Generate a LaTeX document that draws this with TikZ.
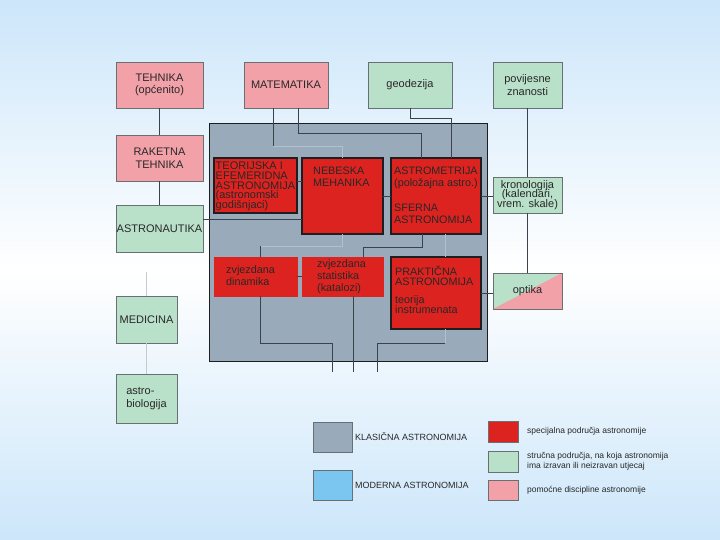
\documentclass[tikz,border=0pt]{standalone}
\usepackage{fontspec}
\setmainfont{Liberation Sans}
\usetikzlibrary{positioning}
\definecolor{bgblue}{RGB}{204,230,250}
\definecolor{pinkfill}{RGB}{242,161,168}
\definecolor{greenfill}{RGB}{185,224,201}
\definecolor{redfill}{RGB}{220,35,32}
\definecolor{greyfill}{RGB}{153,171,187}
\definecolor{bluefill}{RGB}{122,198,240}
\definecolor{boxbdr}{RGB}{105,112,116}
\definecolor{emphbdr}{RGB}{30,30,32}
\definecolor{lineclr}{RGB}{58,66,76}
\definecolor{lightln}{RGB}{178,192,204}
\definecolor{paleln}{RGB}{196,202,208}
\definecolor{txtclr}{RGB}{40,40,40}
\tikzset{
  pblk/.style={rectangle,draw=boxbdr,fill=pinkfill,inner sep=0pt,outer sep=0pt,
    minimum width=84pt,minimum height=46pt,
    font=\fontsize{11}{12.5}\selectfont,align=center,text=txtclr},
  gblk/.style={pblk,fill=greenfill},
  rblk/.style={rectangle,draw=redfill,fill=redfill,inner sep=0pt,outer sep=0pt,
    minimum width=81pt},
  remblk/.style={rblk,draw=emphbdr,line width=1.4pt},
  clsbox/.style={rectangle,draw=emphbdr,fill=greyfill,line width=1pt,
    inner sep=0pt,outer sep=0pt},
  rtxt/.style={font=\fontsize{10.8}{12}\selectfont\setlength{\lineskiplimit}{-20pt},
    align=left,text=txtclr,inner sep=0pt},
  lgbox/.style={rectangle,draw=boxbdr,inner sep=0pt,outer sep=0pt,
    minimum width=30pt,minimum height=21pt},
  lgtxt/.style={font=\fontsize{8.5}{10.5}\selectfont,align=left,
    text=txtclr,inner sep=0pt},
  ln/.style={lineclr,line width=0.8pt},
  lnl/.style={lightln,line width=0.8pt},
  lnp/.style={paleln,line width=0.8pt},
}
\begin{document}
\begin{tikzpicture}[x=1pt,y=-1pt]

  \shade[top color=bgblue,bottom color=bgblue,middle color=white]
    (0,0) rectangle (720,540);
  \useasboundingbox (0,0) rectangle (720,540);

  % outer fields
  \node[pblk,minimum width=87pt,anchor=north west] (tehnika) at (116,62)
    {TEHNIKA\\(općenito)};
  \node[pblk,right=41pt of tehnika] (matem) {MATEMATIKA};
  \node[gblk,right=40pt of matem] (geodez) {geodezija};
  \node[gblk,minimum width=69pt,right=41pt of geodez] (povij)
    {povijesne\\znanosti};
  \node[pblk,minimum width=87pt,below=27pt of tehnika] (raketna)
    {RAKETNA\\TEHNIKA};
  \node[gblk,minimum width=87pt,minimum height=47pt,below=24pt of raketna]
    (astronaut) {ASTRONAUTIKA};
  \node[gblk,minimum width=61pt,minimum height=47pt,
    below=44pt of astronaut.south west,anchor=north west] (medic) {MEDICINA};
  \node[gblk,minimum width=61pt,minimum height=49pt,below=31pt of medic,
    align=left] (astrobio) {astro-\\biologija};

  % klasicna astronomija
  \node[clsbox,minimum width=278pt,minimum height=237pt,anchor=north west]
    (klas) at (209,124) {};
  \node[remblk,minimum width=83pt,minimum height=55pt,
    below right=34pt and 5pt of klas.north west] (teor) {};
  \node[remblk,minimum height=76pt,right=5pt of teor.north east,
    anchor=north west] (nebes) {};
  \node[remblk,minimum width=90pt,minimum height=76pt,
    right=8pt of nebes.north east,anchor=north west] (astrom) {};
  \node[rblk,minimum width=83pt,minimum height=39pt,
    below=44pt of teor.south west,anchor=north west] (dinam) {};
  \node[rblk,minimum height=39pt,right=5pt of dinam.north east,
    anchor=north west] (statist) {};
  \node[remblk,minimum width=90pt,minimum height=72pt,
    right=8pt of statist.north east,anchor=north west] (prakt) {};

  \node[rtxt,font=\fontsize{11}{9.6}\selectfont\setlength{\lineskiplimit}{-20pt},
    below right=4pt and 1.5pt of teor.north west] (teorT)
    {TEORIJSKA I\\EFEMERIDNA\\ASTRONOMIJA\\(astronomski\\godišnjaci)};
  \node[rtxt,below right=9pt and 11pt of nebes.north west] (nebesT)
    {NEBESKA\\MEHANIKA};
  \node[rtxt,below right=9pt and 3pt of astrom.north west] (astromT)
    {ASTROMETRIJA\\(položajna astro.)\\[13pt]SFERNA\\ASTRONOMIJA};
  \node[rtxt,below right=8pt and 12pt of dinam.north west] (dinamT)
    {zvjezdana\\dinamika};
  \node[rtxt,below right=2pt and 15pt of statist.north west] (statistT)
    {zvjezdana\\statistika\\(katalozi)};
  \node[rtxt,font=\fontsize{10.8}{10}\selectfont\setlength{\lineskiplimit}{-20pt},
    below right=9pt and 4pt of prakt.north west] (praktT)
    {PRAKTIČNA\\ASTRONOMIJA\\[8pt]teorija\\instrumenata};

  \node[gblk,minimum width=69pt,minimum height=36pt,below=69pt of povij,
    font=\fontsize{11}{9.5}\selectfont\setlength{\lineskiplimit}{-20pt}] (kronol)
    {kronologija\\(kalendari,\\vrem. skale)};
  \node[gblk,minimum width=69pt,minimum height=36pt,below=60pt of kronol,
    path picture={\fill[pinkfill] (path picture bounding box.south west)
      -- (path picture bounding box.north east)
      -- (path picture bounding box.south east) -- cycle;}] (optika) {optika};

  % helper points
  \coordinate (matA) at ([xshift=-13pt]matem.south);
  \coordinate (matB) at ([xshift=12pt]matem.south);
  \coordinate[above=12pt of nebes.north] (nebIn);
  \coordinate (astA) at ([xshift=-15pt,yshift=25pt]astrom.north);
  \coordinate (astB) at ([xshift=15pt,yshift=40pt]astrom.north);
  \coordinate (astroOut) at ([yshift=9.5pt]astronaut.east);
  \coordinate (teorOut) at ([yshift=4.5pt]teor.east);
  \coordinate[below=12pt of nebes.south] (nebOut);
  \coordinate (dinIn) at ([xshift=4.5pt]dinam.north);
  \coordinate (astC) at ([xshift=-14pt]astrom.south);
  \coordinate (statIn) at ([xshift=20.5pt]statist.north);
  \coordinate (statMid) at ([yshift=10pt]statIn);
  \coordinate (endB) at ([xshift=10.5pt,yshift=-76pt]statist.south);
  \coordinate (endA) at ([xshift=-21pt]endB);
  \coordinate (endC) at ([xshift=24pt]endB);
  \coordinate (bendA) at ([yshift=29pt]endA);
  \coordinate (bendC) at ([yshift=29pt]endC);
  \coordinate (praktOut) at ([xshift=9pt]prakt.south);
  \coordinate[above=24pt of medic.north] (medTop);

  % connectors
  \draw[ln] (tehnika) -- (raketna);
  \draw[ln] (raketna) -- (astronaut);
  \draw[ln] (astroOut) -- (astroOut -| nebes.west);
  \draw[ln] (matA) -- (matA |- nebIn);
  \draw[lnl] (matA |- nebIn) -- (nebIn) -- (nebes.north);
  \draw[ln] (matB) |- (astA) -- (astA |- astrom.north);
  \draw[ln] (geodez.south) |- (astB) -- (astB |- astrom.north);
  \draw[ln] (povij) -- (kronol);
  \draw[ln] (kronol) -- (optika);
  \draw[ln] (astrom.east) -- (astrom.east -| kronol.west);
  \draw[ln] (prakt.east) -- (prakt.east -| optika.west);
  \draw[ln] (teorOut) -- (teorOut -| nebes.west);
  \draw[ln] (nebes) -- (astrom);
  \draw[ln] (dinam) -- (statist);
  \draw[lnl] (nebes.south) -- (nebOut) -- (nebOut -| dinIn);
  \draw[ln] (nebOut -| dinIn) -- (dinIn);
  \draw[ln] (astC) |- (statMid) -- (statIn);
  \draw[lnl] ([xshift=9pt]astrom.south) -- ([xshift=9pt]prakt.north);
  \draw[lnl] (praktOut) -- (praktOut |- bendC);
  \draw[ln] (praktOut |- bendC) -- (bendC) -- (endC);
  \draw[ln] ([xshift=4.5pt]dinam.south) |- (bendA) -- (endA);
  \draw[ln] ([xshift=10.5pt]statist.south) -- (endB);
  \draw[lnp] (medTop) -- (medic.north);
  \draw[lnp] (medic) -- (astrobio);

  % legend
  \node[lgbox,fill=greyfill,minimum width=39pt,minimum height=30pt,
    anchor=north west] (lgklas) at (313,422) {};
  \node[lgbox,fill=bluefill,minimum width=39pt,minimum height=30pt,
    below=18pt of lgklas] (lgmod) {};
  \node[lgtxt,font=\fontsize{9}{11}\selectfont,right=3pt of lgklas]
    (lgklasT) {KLASIČNA ASTRONOMIJA};
  \node[lgtxt,font=\fontsize{9}{11}\selectfont,right=3pt of lgmod]
    (lgmodT) {MODERNA ASTRONOMIJA};
  \node[lgbox,fill=redfill,anchor=north west] (lgspec) at (488,421) {};
  \node[lgbox,fill=greenfill,below=9pt of lgspec] (lgstr) {};
  \node[lgbox,fill=pinkfill,minimum height=20pt,below=8pt of lgstr] (lgpom) {};
  \node[lgtxt,right=9pt of lgspec] (lgspecT) {specijalna područja astronomije};
  \node[lgtxt,right=9pt of lgstr] (lgstrT)
    {stručna područja, na koja astronomija\\ima izravan ili neizravan utjecaj};
  \node[lgtxt,right=9pt of lgpom] (lgpomT) {pomoćne discipline astronomije};

\end{tikzpicture}
\end{document}
